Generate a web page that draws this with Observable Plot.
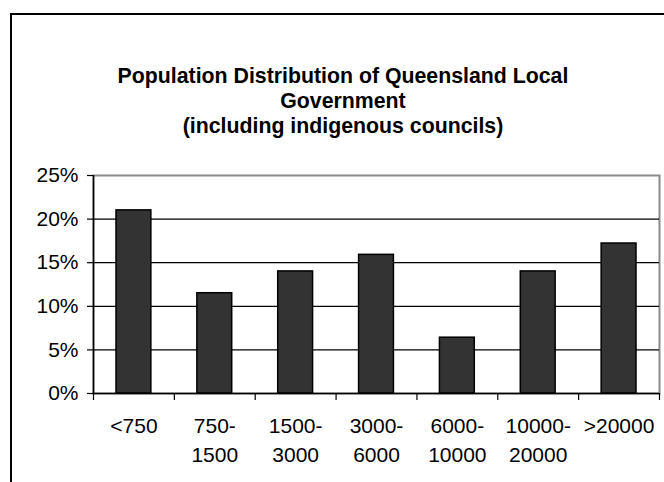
<!DOCTYPE html>
<html>
<head>
<meta charset="utf-8">
<script src="https://cdn.jsdelivr.net/npm/d3@7"></script>
<script src="https://cdn.jsdelivr.net/npm/@observablehq/plot@0.6"></script>
<style>
  html, body { margin: 0; padding: 0; background: #fff; overflow: hidden; }
  #page { position: relative; width: 664px; height: 482px; overflow: hidden; font-family: "Liberation Sans", Arial, sans-serif; }
  #box { position: absolute; left: 10px; top: 13px; width: 680px; height: 520px; border: 2px solid #000; box-sizing: border-box; }
  #title { position: absolute; left: 43px; width: 600px; top: 64px; text-align: center; font-weight: bold; font-size: 21.3px; line-height: 25px; color: #000; white-space: nowrap; }
  #chart { position: absolute; left: 0; top: 0; }
</style>
</head>
<body>
<div id="page">
  <div id="box"></div>
  <div id="chart"></div>
  <div id="title">Population Distribution of Queensland Local<br>Government<br>(including indigenous councils)</div>
</div>
<script>
// Council population bands and the share of councils in each
const bands = ["<750", "750-1500", "1500-3000", "3000-6000", "6000-10000", "10000-20000", ">20000"];
const shares = [0.210, 0.115, 0.140, 0.159, 0.064, 0.140, 0.172];
const yTicks = [0, 0.05, 0.10, 0.15, 0.20, 0.25];

const rows = bands.map((b, i) => ({
  i,
  band: b,
  label: b.includes("-") ? b.replace("-", "-\n") : b,
  share: shares[i]
}));

const font = "Liberation Sans, Arial, sans-serif";

const chart = Plot.plot({
  width: 664,
  height: 482,
  marginLeft: 93,
  marginRight: 5,
  marginTop: 175,
  marginBottom: 89,
  style: { fontFamily: font, fontSize: "21px", background: "transparent", overflow: "visible" },
  x: { type: "linear", domain: [0, bands.length], axis: null },
  y: { domain: [0, 0.25], axis: null },
  marks: [
    Plot.frame({ stroke: "#8a8a8a", strokeWidth: 2 }),
    Plot.ruleY(yTicks.filter(t => t > 0 && t < 0.25), { stroke: "#000", strokeWidth: 1.2 }),
    Plot.rectY(rows, {
      x1: "i",
      x2: d => d.i + 1,
      y1: 0,
      y2: "share",
      insetLeft: 23,
      insetRight: 23,
      fill: "#333333",
      stroke: "#000",
      strokeWidth: 1.5
    }),
    Plot.ruleY([0], { stroke: "#000", strokeWidth: 1.5 }),
    Plot.ruleX([0], { stroke: "#000", strokeWidth: 1.5 }),
    Plot.axisY({
      ticks: yTicks,
      tickFormat: d3.format(".0%"),
      tickSize: 6,
      tickPadding: 9,
      stroke: "#000",
      strokeWidth: 1.2,
      fill: "#000",
      fontSize: 21,
      label: null
    }),
    Plot.axisX({
      ticks: d3.range(bands.length + 1),
      tickFormat: () => "",
      tickSize: 7,
      stroke: "#000",
      strokeWidth: 1.2,
      label: null
    }),
    Plot.text(rows, {
      x: d => d.i + 0.5,
      y: 0,
      text: "label",
      lineAnchor: "top",
      dy: 20,
      lineHeight: 1.34,
      fill: "#000",
      fontSize: 21
    })
  ]
});

document.getElementById("chart").appendChild(chart);
</script>
</body>
</html>
